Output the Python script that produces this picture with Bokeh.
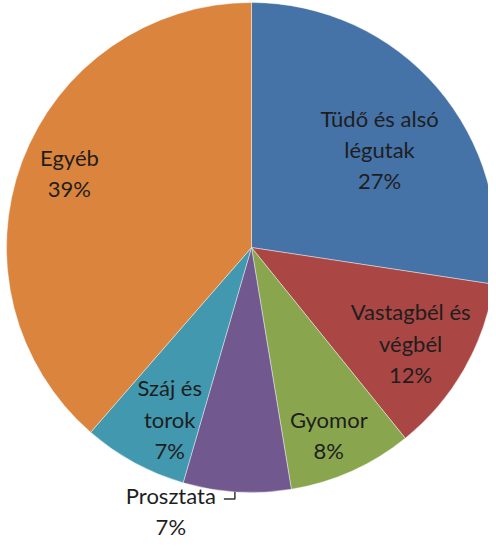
import math
from bokeh.plotting import figure
from bokeh.models import Range1d, ColumnDataSource
from bokeh.core.properties import value
from bokeh.embed import file_html
from bokeh.resources import INLINE

# ---- data ----
categories = ["Tüdő és alsó\nlégutak", "Vastagbél és\nvégbél", "Gyomor", "Prosztata", "Száj és\ntorok", "Egyéb"]
shares = [27.4, 11.8, 8.2, 7.1, 6.9, 38.6]
colors = ["#4572A7", "#AA4643", "#89A54E", "#71588F", "#4198AF", "#DB843D"]

# ---- label placement (style) ----
label_r = [0.658, 0.758, 0.827, 1.125, 0.776, 0.803]
label_da = [-3.25, -1.15, -1.7, -13.6, 3.15, -1.75]

W, H = 488, 543
CX, CY = 251, 247          # pie centre in figure pixels (from top-left)
R = 245

total = sum(shares)
starts, ends, mids = [], [], []
cum = 0.0
for v in shares:
    a0 = math.pi / 2 - 2 * math.pi * cum / total
    cum += v
    a1 = math.pi / 2 - 2 * math.pi * cum / total
    starts.append(a0)
    ends.append(a1)
    mids.append((a0 + a1) / 2)

pcts = [f"{round(v / total * 100)}%" for v in shares]
texts = [c + "\n" + p for c, p in zip(categories, pcts)]
lx = [R * r * math.cos(m + math.radians(d)) for r, m, d in zip(label_r, mids, label_da)]
ly = [R * r * math.sin(m + math.radians(d)) for r, m, d in zip(label_r, mids, label_da)]

p = figure(width=W, height=H, output_backend="svg", toolbar_location=None,
           x_range=Range1d(-CX, W - CX), y_range=Range1d(-(H - CY), CY),
           min_border=0)
p.axis.visible = False
p.grid.visible = False
p.outline_line_color = None
p.background_fill_color = "white"
p.border_fill_color = "white"

src = ColumnDataSource(dict(start=starts, end=ends, color=colors))
p.wedge(x=0, y=0, radius=R, radius_units="data", start_angle="start", end_angle="end",
        direction="clock", fill_color="color", line_color="white", line_width=0.7,
        line_alpha=0.6, source=src)

p.text(x=lx, y=ly, text=texts, text_align="center", text_baseline="middle",
       text_font=value("Lato"), text_font_size="22px", text_color="#1e1e1e",
       text_line_height=1.16)

# leader line for the outside (Prosztata) label
i = 3
ax = R * math.cos(mids[i]) - 2
ay = -math.sqrt(R * R - ax * ax)
top_line_y = ly[i] + 12
p.line(x=[ax, ax, ax - 11], y=[ay, top_line_y, top_line_y], line_color="#333333", line_width=1.5)

open("out.html", "w").write(file_html(p, INLINE))
